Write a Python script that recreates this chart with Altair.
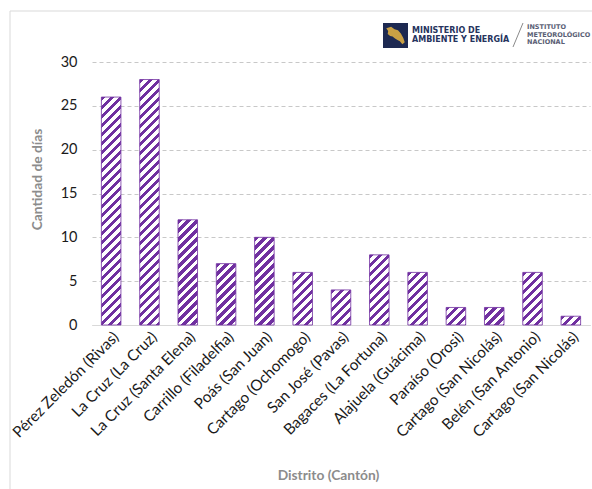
import json
import altair as alt
import pandas as pd

# ---------------- data ----------------
distritos = [
    "Pérez Zeledón (Rivas)",
    "La Cruz (La Cruz)",
    "La Cruz (Santa Elena)",
    "Carrillo (Filadelfia)",
    "Poás (San Juan)",
    "Cartago (Ochomogo)",
    "San José (Pavas)",
    "Bagaces (La Fortuna)",
    "Alajuela (Guácima)",
    "Paraíso (Orosi)",
    "Cartago (San Nicolás)",
    "Belén (San Antonio)",
    "Cartago (San Nicolás)",
]
dias = [26, 28, 12, 7, 10, 6, 4, 8, 6, 2, 2, 6, 1]
y_ticks = [0, 5, 10, 15, 20, 25, 30]

df = pd.DataFrame({"orden": list(range(len(distritos))), "nombre": distritos, "dias": dias})

# ---------------- layout / style ----------------
W, H = 498, 263
YMAX = 30
PI = 0.49
PURPLE = "#7030A0"
FONT = "Lato"
step = W / len(distritos)
bw = step * (1 - PI)


def hatch(v):
    """Diagonal hatch (45°) via a sharp-stop linear gradient for a bar of value v."""
    w = bw
    h = max(v * H / YMAX, 1.0)
    total = w + h
    s = total / (w * w + h * h)
    period = 9.0
    ink = 4.3
    stops = []
    k = 0
    while True:
        a = k * period / total
        if a >= 1:
            break
        b = min((k * period + ink) / total, 1.0)
        c = min((k + 1) * period / total, 1.0)
        stops += [
            alt.GradientStop(offset=a, color=PURPLE),
            alt.GradientStop(offset=b, color=PURPLE),
            alt.GradientStop(offset=b, color="white"),
            alt.GradientStop(offset=c, color="white"),
        ]
        k += 1
    return alt.LinearGradient(gradient="linear", stops=stops, x1=0, y1=0, x2=w * s, y2=h * s)


label_expr = json.dumps(distritos) + "[datum.value]"

x_enc = alt.X(
    "orden:O",
    scale=alt.Scale(paddingInner=PI, paddingOuter=PI / 2),
    axis=alt.Axis(
        title="Distrito (Cantón)",
        labelExpr=label_expr,
        labelAngle=-45,
        labelFont=FONT,
        labelFontSize=15.3,
        labelColor="#1a1a1a",
        labelPadding=4,
        ticks=False,
        domainColor="#d9d9d9",
        titleFont=FONT,
        titleFontSize=13.8,
        titleFontWeight="bold",
        titleColor="#8c8c8c",
        titleX=236,
        titleY=150,
        titleAlign="center",
        titleBaseline="middle",
    ),
)
y_enc = alt.Y(
    "dias:Q",
    scale=alt.Scale(domain=[0, YMAX], nice=False),
    axis=alt.Axis(
        title="Cantidad de días",
        values=y_ticks,
        labelFont=FONT,
        labelFontSize=14.5,
        labelColor="#1a1a1a",
        labelPadding=15,
        ticks=False,
        domain=False,
        gridColor="#c8c8c8",
        gridDash=[4, 3],
        titleFont=FONT,
        titleFontSize=13.8,
        titleFontWeight="bold",
        titleColor="#8c8c8c",
        titleX=-55,
        titleY=117,
        titleAlign="center",
        titleBaseline="middle",
    ),
)

bar_layers = []
for i, v in enumerate(dias):
    bar_layers.append(
        alt.Chart(df)
        .transform_filter(alt.datum.orden == i)
        .mark_bar(fill=hatch(v), stroke=PURPLE, strokeWidth=1, strokeOpacity=0.8)
        .encode(x=x_enc, y=y_enc)
    )

one = alt.Data(values=[{}])
border_color = "#d9d9d9"
border_left = alt.Chart(one).mark_rule(color=border_color).encode(
    x=alt.value(-82), y=alt.value(-51), y2=alt.value(430)
)
border_top = alt.Chart(one).mark_rule(color=border_color).encode(
    x=alt.value(-82), x2=alt.value(505), y=alt.value(-51)
)

# logo (decoration)
logo_box = alt.Chart(one).mark_rect(color="#1d2951").encode(
    x=alt.value(291), x2=alt.value(316), y=alt.value(-39), y2=alt.value(-14)
)
cr_path = "M-0.95,-0.75 L-0.45,-0.9 L-0.1,-0.65 L0.25,-0.55 L0.55,-0.2 L0.8,0.25 L0.95,0.7 L0.7,0.9 L0.45,0.6 L0.2,0.45 L-0.05,0.3 L-0.3,0.1 L-0.55,0.05 L-0.8,-0.15 L-0.75,-0.45 Z"
logo_map = alt.Chart(one).mark_point(shape=cr_path, filled=True, color="#c9a044", opacity=1, size=380).encode(
    x=alt.value(303.5), y=alt.value(-26.5)
)
min_texts = []
for txt, yy in [("MINISTERIO DE", -31), ("AMBIENTE Y ENERGÍA", -22)]:
    min_texts.append(
        alt.Chart(one).mark_text(align="left", baseline="middle", font="DejaVu Sans", fontWeight="bold",
                                 fontSize=8, color="#26345e").encode(
            x=alt.value(320), y=alt.value(yy), text=alt.value(txt)
        )
    )
slash = alt.Chart(one).mark_rule(color="#8a8a8a", strokeWidth=1).encode(
    x=alt.value(431), x2=alt.value(421), y=alt.value(-39), y2=alt.value(-15)
)
inst_texts = []
for txt, yy in [("INSTITUTO", -35), ("METEOROLÓGICO", -27.5), ("NACIONAL", -20)]:
    inst_texts.append(
        alt.Chart(one).mark_text(align="left", baseline="middle", font="DejaVu Sans", fontWeight="bold",
                                 fontSize=6.5, color="#5a6075").encode(
            x=alt.value(435), y=alt.value(yy), text=alt.value(txt)
        )
    )

chart = alt.layer(
    border_left, border_top, *bar_layers, logo_box, logo_map, *min_texts, slash, *inst_texts
).properties(
    width=W,
    height=H,
    autosize=alt.AutoSizeParams(type="none"),
    padding={"left": 92, "top": 62, "right": 2, "bottom": 164},
    background="white",
).configure_view(stroke=None)

chart.save("out.html", embed_options={"renderer": "svg", "actions": False})
